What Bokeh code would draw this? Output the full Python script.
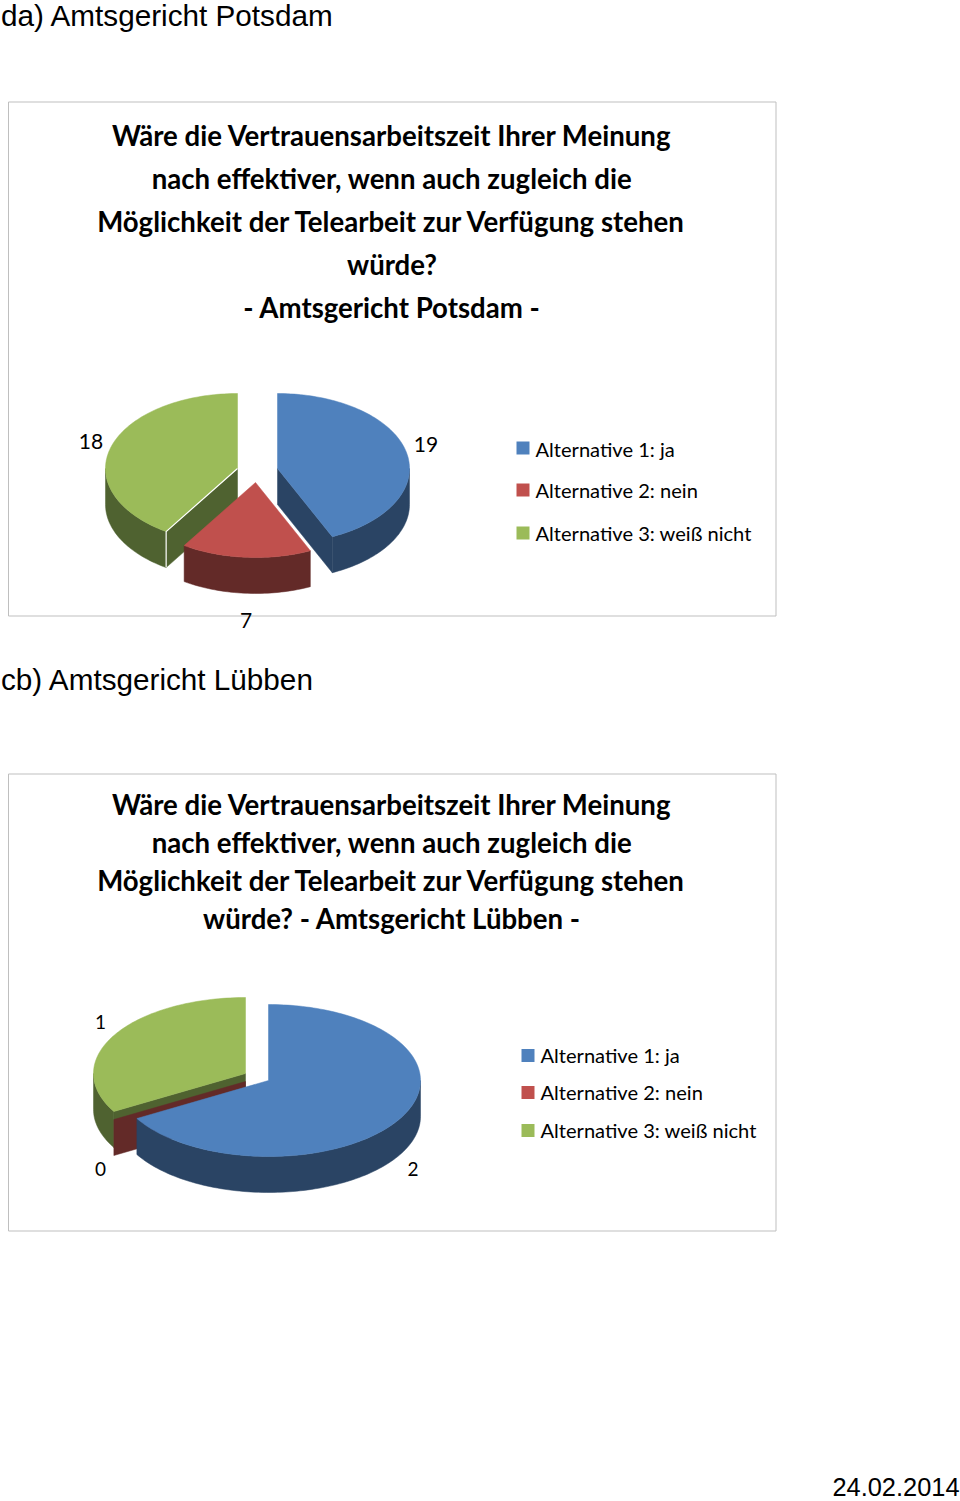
import math
from bokeh.plotting import figure
from bokeh.core.properties import value
from bokeh.embed import file_html
from bokeh.resources import INLINE

# ---- data ----
categories = ["Alternative 1: ja", "Alternative 2: nein", "Alternative 3: weiß nicht"]
potsdam_values = [19, 7, 18]
luebben_values = [2, 0, 1]
top_colors = ["#4F81BD", "#C0504D", "#9BBB59"]
side_colors = ["#2A4464", "#632A28", "#4F6230"]
potsdam_title = ["Wäre die Vertrauensarbeitszeit Ihrer Meinung",
                 "nach effektiver, wenn auch zugleich die",
                 "Möglichkeit der Telearbeit zur Verfügung stehen",
                 "würde?",
                 "- Amtsgericht Potsdam -"]
luebben_title = ["Wäre die Vertrauensarbeitszeit Ihrer Meinung",
                 "nach effektiver, wenn auch zugleich die",
                 "Möglichkeit der Telearbeit zur Verfügung stehen",
                 "würde? - Amtsgericht Lübben -"]

W, H = 960, 1501
p = figure(width=W, height=H, x_range=(0, W), y_range=(H, 0),
           output_backend="svg", toolbar_location=None, min_border=0)
p.axis.visible = False
p.grid.visible = False
p.outline_line_color = None
p.styles = {"position": "absolute", "left": "0px", "top": "0px"}


def sector(values, centres, rx, ry, depth, order):
    total = sum(values)
    xs, ys, cs = [], [], []
    edges = [0]
    for v in values:
        edges.append(edges[-1] + v / total * 2 * math.pi)

    def pt(t, c, dy=0):
        return c[0] + rx * math.sin(t), c[1] - ry * math.cos(t) + dy

    def arc(a, b, c, dy=0):
        n = max(2, int((b - a) * 40))
        return [pt(a + (b - a) * k / n, c, dy) for k in range(n + 1)]

    for i in order:
        a, b, c = edges[i], edges[i + 1], centres[i]
        # outer wall: the part of the rim that faces the viewer
        lo, hi = max(a, math.pi / 2), min(b, 3 * math.pi / 2)
        if hi > lo:
            poly = arc(lo, hi, c) + arc(lo, hi, c, depth)[::-1]
            xs.append([q[0] for q in poly]); ys.append([q[1] for q in poly]); cs.append(side_colors[i])
        # cut faces that turn towards the viewer
        for t, show in ((a, math.sin(a) < -1e-9), (b, math.sin(b) > 1e-9)):
            if show:
                e = pt(t, c)
                poly = [c, (c[0], c[1] + depth), (e[0], e[1] + depth), e]
                xs.append([q[0] for q in poly]); ys.append([q[1] for q in poly]); cs.append(side_colors[i])
        # top surface
        if b > a:
            poly = [c] + arc(a, b, c)
            xs.append([q[0] for q in poly]); ys.append([q[1] for q in poly]); cs.append(top_colors[i])
    p.patches(xs, ys, fill_color=cs, line_color=cs, line_width=0.5)
    return edges, pt


def text(xs, ys, labels, font, size, style="normal", align="left", color="#000000"):
    p.text(xs, ys, text=labels, text_font=value(font), text_font_size=size,
           text_font_style=style, text_align=align, text_baseline="middle", text_color=color)


def panel(left, right, top, bottom):
    p.quad(left=[left], right=[right], top=[top], bottom=[bottom],
           fill_color="#FFFFFF", line_color="#BFBFBF", line_width=1)


def legend(x, ys):
    p.quad(left=[x] * 3, right=[x + 13] * 3, top=[y - 6.5 for y in ys], bottom=[y + 6.5 for y in ys],
           fill_color=top_colors, line_color=None)


# ---- chart 1 ----
panel(8, 775.5, 101.5, 615.5)
text([391.5] * 5, [135, 178, 221, 264, 307], potsdam_title, "Lato", "27.6px", "bold", "center")
edges, pt = sector(potsdam_values, [(277, 468), (255, 482), (237, 468)], 132, 75, 36, [2, 0, 1])
e = pt(edges[2], (237, 468))
p.line([237, e[0], e[0]], [468, e[1], e[1] + 36], line_color="#FFFFFF", line_width=1.2)
text([90.5, 425.5, 245.5], [441, 444, 619.5], [str(v) for v in (potsdam_values[2], potsdam_values[0], potsdam_values[1])], "Lato", "21px", align="center")
legend(516, [447.5, 489.5, 532.5])
text([535] * 3, [448.5, 489.5, 532.5], categories, "Lato", "20.1px")

# ---- chart 2 ----
panel(8, 775.5, 773.5, 1230.5)
text([391.5] * 4, [804, 842, 880, 918], luebben_title, "Lato", "27.6px", "bold", "center")
sector(luebben_values, [(268, 1080), (245, 1081), (245, 1073)], 152, 76, 36, [2, 1, 0])
text([100, 100, 412.5], [1021, 1168, 1168], [str(v) for v in (luebben_values[2], luebben_values[1], luebben_values[0])], "Lato", "19px", align="center")
legend(521, [1055, 1092, 1130])
text([540] * 3, [1054.5, 1091.5, 1129.5], categories, "Lato", "20.1px")

# ---- surrounding page text ----
text([0.5], [15], ["da) Amtsgericht Potsdam"], "Liberation Sans", "29.7px")
text([0.5], [679], ["cb) Amtsgericht Lübben"], "Liberation Sans", "29.7px")
text([959], [1486], ["24.02.2014"], "Liberation Sans", "25.4px", align="right")

open("out.html", "w").write(file_html(p, INLINE))
